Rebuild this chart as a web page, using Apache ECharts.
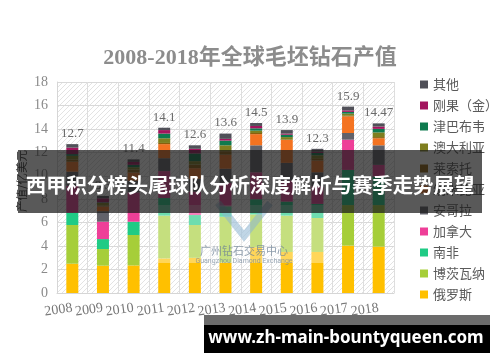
<!DOCTYPE html>
<html>
<head>
<meta charset="utf-8">
<script src="https://cdn.jsdelivr.net/npm/echarts@6/dist/echarts.min.js"></script>
<style>html,body{margin:0;padding:0;background:#fff;}#c{width:500px;height:362px;}</style>
</head>
<body>
<div id="c"></div>
<script>
// ---- data ----
const years = ['2008','2009','2010','2011','2012','2013','2014','2015','2016','2017','2018'];
const totals = ['12.7','8.3','11.4','14.1','12.6','13.6','14.5','13.9','12.3','15.9','14.47'];
const russia      = [2.5, 2.33, 2.35, 2.95, 3.0, 2.6, 3.9, 3.5, 3.5, 4.04, 3.96];
const botswana    = [3.3, 1.42, 2.6, 3.65, 2.8, 3.9, 2.8, 3.1, 2.9, 3.46, 3.54];
const southAfrica = [1.05, 0.85, 1.13, 1.5, 0.85, 0.9, 1.3, 1.2, 1.2, 3.0, 2.43];
const canada      = [2.3, 1.48, 2.5, 2.3, 2.0, 2.0, 2.3, 1.8, 1.5, 2.58, 1.0];
const angola      = [1.2, 0.9, 1.0, 1.1, 1.1, 1.2, 2.3, 1.5, 1.2, 0.57, 1.67];
const namibia     = [0.85, 0.4, 0.7, 1.2, 0.9, 1.2, 0.95, 1.95, 1.0, 1.42, 0.6];
const lesotho     = [0.2, 0.1, 0.25, 0.1, 0.3, 0.3, 0.1, 0.05, 0.2, 0.05, 0.1];
const australia   = [0.3, 0.2, 0.2, 0.4, 0.3, 0.5, 0.2, 0.2, 0.25, 0.18, 0.4];
const zimbabwe    = [0.15, 0.05, 0.2, 0.4, 0.65, 0.4, 0.2, 0.2, 0.2, 0.15, 0.3];
const drc         = [0.55, 0.35, 0.25, 0.3, 0.4, 0.15, 0.2, 0.1, 0.1, 0.13, 0.2];
const other       = [0.3, 0.2, 0.22, 0.2, 0.3, 0.45, 0.25, 0.3, 0.25, 0.32, 0.27];
const yTicks = [0, 18, 2];

const seriesDefs = [
  ['俄罗斯', russia, '#FFC000'],
  ['博茨瓦纳', botswana, '#A6CE39'],
  ['南非', southAfrica, '#1FCB85'],
  ['加拿大', canada, '#EE3F98'],
  ['安哥拉', angola, '#62626A'],
  ['纳米比亚', namibia, '#F47321'],
  ['莱索托', lesotho, '#8B5E0B'],
  ['澳大利亚', australia, '#7F7F1F'],
  ['津巴布韦', zimbabwe, '#0E7A4E'],
  ['刚果（金）', drc, '#A3145E'],
  ['其他', other, '#505058']
];

// hatch pattern
const hatch = document.createElement('canvas');
hatch.width = 5; hatch.height = 5;
const hc = hatch.getContext('2d');
hc.fillStyle = '#ffffff'; hc.fillRect(0,0,5,5);
hc.strokeStyle = '#e3e3e3'; hc.lineWidth = 1;
hc.beginPath(); hc.moveTo(-1,6); hc.lineTo(6,-1); hc.stroke();

const serif = "'Liberation Serif','Noto Sans CJK SC',serif";
const chart = echarts.init(document.getElementById('c'), null, {renderer:'canvas'});

const series = seriesDefs.map((d, i) => ({
  name: d[0], type: 'bar', stack: 'total', data: d[1], barWidth: 12,
  itemStyle: {color: d[2]},
  label: i === seriesDefs.length - 1 ? {
    show: true, position: 'top', distance: 4,
    formatter: p => totals[p.dataIndex],
    fontFamily: serif, fontSize: 13, color: '#6a6a6a'
  } : {show: false}
}));

chart.setOption({
  animation: false,
  backgroundColor: '#ffffff',
  title: {
    text: '2008-2018年全球毛坯钻石产值', left: 'center', top: 42,
    textStyle: {fontFamily: serif, fontSize: 22, fontWeight: 'bold', color: '#8c8c8c'}
  },
  legend: {
    orient: 'vertical', left: 415, top: 73, itemWidth: 8, itemHeight: 8, itemGap: 8,
    icon: 'rect',
    data: seriesDefs.map(d => d[0]).reverse(),
    textStyle: {fontSize: 13, lineHeight: 13, color: '#5a5a5a', fontFamily: "'Noto Sans CJK SC'"}
  },
  grid: {
    left: 57, right: 106, top: 82, bottom: 69, show: true,
    backgroundColor: {image: hatch, repeat: 'repeat'}, borderWidth: 0
  },
  xAxis: {
    type: 'category', data: years,
    axisLine: {lineStyle: {color: '#d6d6d6'}},
    axisTick: {show: false},
    splitLine: {show: true, lineStyle: {color: '#dedede'}},
    axisLabel: {fontFamily: serif, fontSize: 14, color: '#777', rotate: 8, margin: 15, interval: 0}
  },
  yAxis: {
    type: 'value', min: yTicks[0], max: yTicks[1], interval: yTicks[2],
    axisLine: {show: true, lineStyle: {color: '#d6d6d6'}},
    axisTick: {show: false},
    splitLine: {lineStyle: {color: '#d9d9d9'}},
    axisLabel: {fontFamily: serif, fontSize: 14, color: '#8a8a8a', margin: 9}
  },
  series: series,
  graphic: [
    {type: 'text', z: 50, rotation: Math.PI / 2, x: 22, y: 181, style: {x: 0, y: 0, text: '产值/亿美元', align: 'center', verticalAlign: 'middle', fontSize: 11.5, fill: '#333', fontFamily: "'Noto Sans CJK SC'"}},
    {type: 'rect', z: 100, shape: {x: 155, y: 205, width: 170, height: 58}, style: {fill: 'rgba(255,255,255,0.35)'}},
    {type: 'polyline', z: 101, shape: {points: [[218,203],[244,236],[270,203]]}, style: {stroke: 'rgba(140,180,210,0.55)', lineWidth: 7, fill: null}},
    {type: 'text', z: 101, style: {x: 244, y: 251, text: '广州钻石交易中心', align: 'center', verticalAlign: 'middle', fontSize: 11, fill: 'rgba(110,130,150,0.75)', fontFamily: "'Noto Sans CJK SC'"}},
    {type: 'text', z: 101, style: {x: 244, y: 261, text: 'Guangzhou Diamond Exchange', align: 'center', verticalAlign: 'middle', fontSize: 7, fill: 'rgba(110,130,150,0.7)', fontFamily: 'Roboto'}},
    {type: 'rect', z: 110, shape: {x: 18, y: 150, width: 464, height: 63}, style: {fill: 'rgba(25,25,25,0.72)'}},
    {type: 'text', z: 111, style: {x: 250, y: 185, text: '西甲积分榜头尾球队分析深度解析与赛季走势展望', align: 'center', verticalAlign: 'middle', fontSize: 20.4, fontWeight: 'bold', fill: '#ffffff', fontFamily: "'Noto Sans CJK SC'"}},
    {type: 'rect', z: 110, shape: {x: 204, y: 315, width: 286, height: 10}, style: {fill: '#6b6b6b'}},
    {type: 'rect', z: 110, shape: {x: 204, y: 325, width: 286, height: 28}, style: {fill: '#000000'}},
    {type: 'text', z: 111, style: {x: 346, y: 338, text: 'www.zh-main-bountyqueen.com', align: 'center', verticalAlign: 'middle', fontSize: 17, fontWeight: 'bold', fill: '#ffffff', fontFamily: "'Noto Sans','Open Sans',sans-serif"}}
  ]
});
</script>
</body>
</html>
